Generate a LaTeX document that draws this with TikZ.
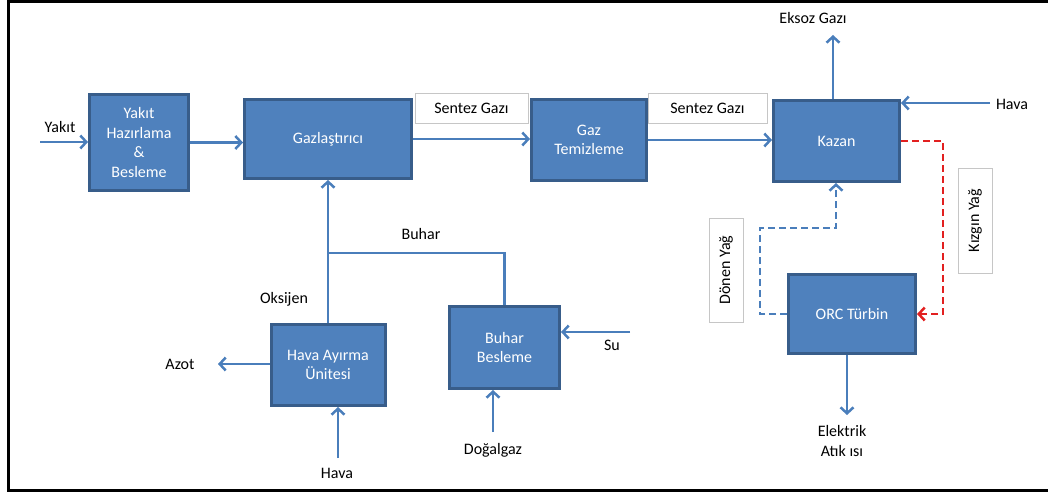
\documentclass[tikz,border=0pt]{standalone}
\usepackage{fontspec}
\setmainfont{Carlito}
\usetikzlibrary{arrows.meta,positioning,calc}
\definecolor{boxfill}{RGB}{79,129,189}
\definecolor{boxline}{RGB}{56,93,138}
\definecolor{flow}{RGB}{74,126,187}
\definecolor{hotoil}{RGB}{226,32,32}

\begin{document}
\begin{tikzpicture}[x=1pt,y=-1pt,>={Straight Barb[length=6pt,width=13pt]},
    font=\fontsize{16}{19.5}\selectfont,
    unit/.style={draw=boxline,line width=3pt,fill=boxfill,text=white,align=center,inner sep=2pt},
    tag/.style={draw=gray!45,line width=0.8pt,fill=white,inner sep=0pt},
    flowline/.style={flow,line width=2.5pt},
    oilline/.style={line width=2.5pt,dash pattern=on 7pt off 4pt}]
    \useasboundingbox (0,0) rectangle (1048,495);
    \draw[line width=3pt] (1048,2) -- (8,2) -- (8,490) -- (1048,490);
    % process units
    \node[unit,minimum width=99pt,minimum height=96pt] (prep) at (139,142.5) {Yakıt\\Hazırlama\\\&\\Besleme};
    \node[unit,minimum width=167pt,minimum height=79pt] (gasifier) at (328,139) {Gazlaştırıcı};
    \node[unit,minimum width=115pt,minimum height=81pt] (cleanup) at (589,140) {Gaz\\Temizleme};
    \node[unit,minimum width=126pt,minimum height=81pt] (boiler) at (836.5,141) {Kazan};
    \node[unit,minimum width=127pt,minimum height=79pt] (orc) at (852,314) {ORC Türbin};
    \node[unit,minimum width=114pt,minimum height=81pt] (asu) at (328,365) {Hava Ayırma\\Ünitesi};
    \node[unit,minimum width=110pt,minimum height=82pt] (steamfeed) at (504.5,347.5) {Buhar\\Besleme};
    % boxed stream labels
    \node[tag,minimum width=113pt,minimum height=30pt] (syngasA) at (471.5,108) {Sentez Gazı};
    \node[tag,minimum width=119pt,minimum height=30pt] (syngasB) at (707.5,108) {Sentez Gazı};
    \node[tag,rotate=90,minimum width=104pt,minimum height=34pt] (returnoil) at (726,270) {Dönen Yağ};
    \node[tag,rotate=90,minimum width=105pt,minimum height=34pt] (hotoillbl) at (975,220.5) {Kızgın Yağ};
    % plain stream labels
    \node (fuel) at (60,127) {Yakıt};
    \node (flue) at (813,18) {Eksoz Gazı};
    \node (airB) at (1012,104) {Hava};
    \node (nitrogen) at (180,364) {Azot};
    \node (airA) at (337,473) {Hava};
    \node (water) at (612,345) {Su};
    \node (natgas) at (493,450) {Doğalgaz};
    \node (oxygen) at (284,299) {Oksijen};
    \node (steam) at (421,234) {Buhar};
    \node[align=center] (power) at (842,441) {Elektrik\\Atık ısı};
    % free ends of the streams
    \coordinate (fuelin) at (40,142);
    \coordinate (flueout) at (833,35);
    \coordinate (airBin) at (990,103);
    \coordinate (retbend) at (836,228);
    \coordinate (steamjoin) at (328,253);
    \coordinate (waterin) at (630,332);
    \coordinate (gasin) at (493,432);
    \coordinate (n2out) at (218,364);
    \coordinate (airAin) at (338,458);
    \coordinate (powerout) at (847,415);
    % main gas line
    \draw[flowline,->] (fuelin) -- (fuelin -| prep.west);
    \draw[flowline,->] (prep.east) -- (prep.east -| gasifier.west);
    \draw[flowline,->] (gasifier.east) -- (gasifier.east -| cleanup.west);
    \draw[flowline,->] (cleanup.east) -- (cleanup.east -| boiler.west);
    \draw[flowline,->] (flueout |- boiler.north) -- (flueout);
    \draw[flowline,->] (airBin) -- (airBin -| boiler.east);
    % oil loop
    \draw[oilline,hotoil,->] (boiler.east) -- ++(42,0) |- (orc.east);
    \draw[oilline,flow,->] (orc.west) -- ++(-27,0) |- (retbend) -- (retbend |- boiler.south);
    \draw[flowline,->] (powerout |- orc.south) -- (powerout);
    % oxygen and steam feed
    \draw[flowline,->] (asu.north) -- (gasifier.south);
    \draw[flowline] (steamfeed.north) |- (steamjoin);
    \draw[flowline,->] (waterin) -- (waterin -| steamfeed.east);
    \draw[flowline,->] (gasin) -- (gasin |- steamfeed.south);
    \draw[flowline,->] (n2out -| asu.west) -- (n2out);
    \draw[flowline,->] (airAin) -- (airAin |- asu.south);
\end{tikzpicture}
\end{document}
